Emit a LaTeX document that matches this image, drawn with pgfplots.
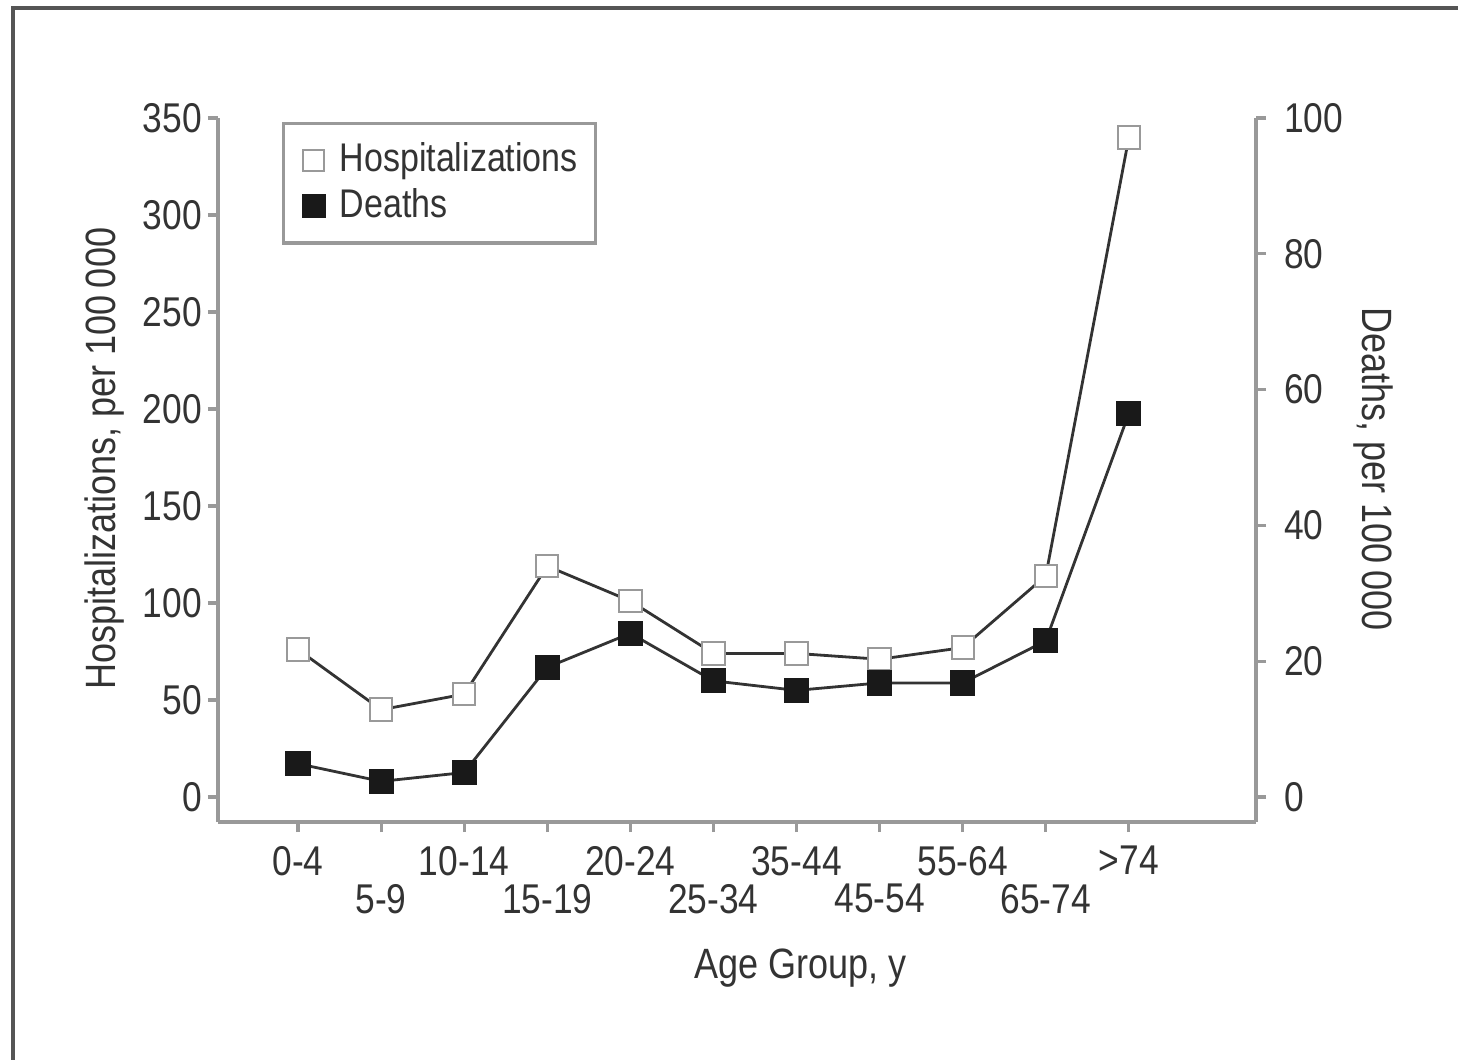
\documentclass[border=0pt]{standalone}
\usepackage{fontspec}
\setmainfont{Liberation Sans}[FakeStretch=0.85]
\usepackage{pgfplots}
\usepackage{pgfplotstable}
\pgfplotsset{compat=1.18}
\definecolor{axgray}{HTML}{999999}
\definecolor{linegray}{HTML}{333333}
\definecolor{framegray}{HTML}{555555}
\definecolor{txt}{HTML}{333333}

\pgfplotstableread{
x hosp deaths
0 76 4.9
1 45 2.3
2 53 3.6
3 119 19.1
4 101 24.1
5 74 17.1
6 74 15.7
7 71 16.8
8 77 16.8
9 114 23.0
10 340 56.5
}\datatable

\begin{document}
\begin{tikzpicture}
\useasboundingbox (0,0) rectangle (364.5pt,-265pt);
\draw[framegray, line width=1pt] (3.25pt,-265pt) -- (3.25pt,-2pt) -- (364.5pt,-2pt);

\pgfplotsset{
  common/.style={
    at={(54.5pt,-205.5pt)}, anchor=south west,
    scale only axis, width=259.5pt, height=176pt,
    xmin=-0.963, xmax=11.53,
    axis line style={axgray, line width=0.8pt},
    tick style={axgray, line width=0.8pt},
    major tick length=2.5pt,
    tick align=outside,
    tick label style={font=\fontsize{10.4}{12}\selectfont, text=txt},
    /pgf/number format/assume math mode=true,
    label style={font=\fontsize{10.6}{12}\selectfont, text=txt},
    clip=false,
  }
}

\begin{axis}[common,
  axis x line*=bottom, axis y line*=left,
  ymin=-12.9, ymax=350,
  ytick={0,50,...,350},
  yticklabel style={xshift=2pt},
  xtick={0,2,4,6,8,10},
  xticklabels={0-4,10-14,20-24,35-44,55-64,>74},
  extra x ticks={1,3,5,7,9},
  extra x tick labels={5-9,15-19,25-34,45-54,65-74},
  extra x tick style={tick label style={yshift=-9.5pt}},
  xlabel={Age Group, y},
  xlabel style={at={(axis description cs:0.561,0)}, anchor=center, yshift=-36.5pt},
  ylabel={Hospitalizations, per 100\,000},
  ylabel style={at={(axis description cs:-0.109,0.516)}, anchor=center},
  legend image code/.code={\path[draw=none, fill=none] (0pt,0pt) -- (9.5pt,0pt); \draw[#1] plot coordinates {(5pt,0pt)};},
  legend style={at={(axis description cs:0.0617,0.994)}, anchor=north west,
    draw=axgray, line width=0.8pt, inner xsep=2.5pt, inner ysep=3.4pt,
    font=\fontsize{10}{12}\selectfont, text=txt,
    nodes={inner xsep=2pt, inner ysep=1pt, text height=7.5pt, text depth=2pt},
    row sep=0pt},
  legend cell align=left,
]
\addplot[forget plot, draw=linegray, line width=0.7pt, mark=square*, mark size=2.8pt,
  mark options={draw=axgray, fill=white, line width=0.5pt, solid}]
  table[x=x, y=hosp] {\datatable};
\addlegendimage{only marks, mark=square*, mark size=2.6pt, mark options={draw=axgray, fill=white, line width=0.5pt}}
\addlegendentry{Hospitalizations}
\addlegendimage{only marks, mark=square*, mark size=2.6pt, mark options={draw=black!90, fill=black!90}}
\addlegendentry{Deaths}
\end{axis}

\begin{axis}[common,
  axis x line=none, axis y line*=right,
  ymin=-3.686, ymax=100,
  ytick={0,20,...,100},
  yticklabel style={xshift=1pt},
  every axis y label/.style={at={(axis description cs:1.113,0.501)}, anchor=center, rotate=-90,
    font=\fontsize{10.6}{12}\selectfont, text=txt},
  ylabel={Deaths, per 100\,000},
]
\addplot[draw=linegray, line width=0.7pt, mark=square*, mark size=2.8pt,
  mark options={draw=black!90, fill=black!90, solid}]
  table[x=x, y=deaths] {\datatable};
\end{axis}
\end{tikzpicture}
\end{document}
